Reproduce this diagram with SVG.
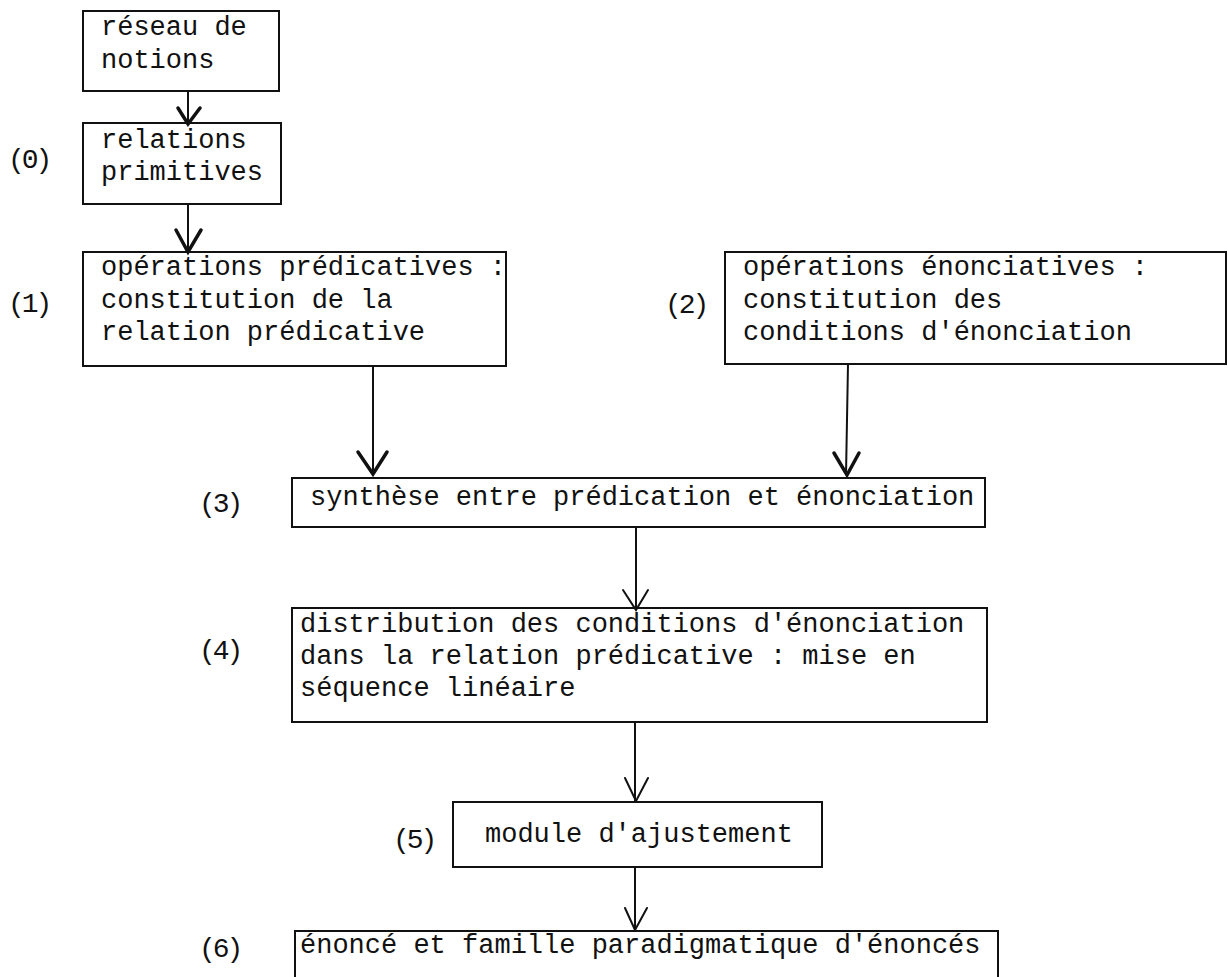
<svg xmlns="http://www.w3.org/2000/svg" width="1228" height="977" viewBox="0 0 1228 977">
<style>
.box{fill:none;stroke:#111;stroke-width:2}
.t{font-family:"Liberation Mono","DejaVu Sans Mono",monospace;font-size:27px;fill:#111}
.lbl{font-family:"Liberation Mono","DejaVu Sans Mono",monospace;font-size:28px;letter-spacing:-3px;fill:#111}
.shaft{stroke:#111;stroke-width:2;fill:none}
.head{stroke:#111;stroke-width:3.5;fill:none;stroke-linejoin:miter;stroke-linecap:round}
.headThin{stroke:#111;stroke-width:2;fill:none;stroke-linecap:round}
</style>
<rect width="1228" height="977" fill="#fff"/>
<g id="connectors">
<line class="shaft" x1="188" y1="91" x2="188" y2="123"/>
<polyline class="head" points="178,108 188,124 200,108"/>
<line class="shaft" x1="188" y1="204" x2="188" y2="252"/>
<polyline class="head" points="176,230 188,252 201,230"/>
<line class="shaft" x1="373" y1="366" x2="373" y2="475"/>
<polyline class="head" points="358,452 373,474 387,452"/>
<line class="shaft" x1="848" y1="364" x2="846" y2="475"/>
<polyline class="head" points="834,453 847,475 859,453"/>
<line class="shaft" x1="636" y1="527" x2="636" y2="608"/>
<polyline class="headThin" points="623,590 636,610 648,590"/>
<line class="shaft" x1="635" y1="722" x2="635" y2="802"/>
<polyline class="headThin" points="625,778 636,801 648,778"/>
<line class="shaft" x1="635" y1="867" x2="635" y2="931"/>
<polyline class="headThin" points="625,908 635,930 647,908"/>
</g>
<g id="node-reseau">
<rect class="box" x="83" y="11" width="196" height="80"/>
<text class="t" x="101" y="35">réseau de</text>
<text class="t" x="101" y="68">notions</text>
</g>
<g id="node-0">
<text class="lbl" x="8" y="168">(0)</text>
<rect class="box" x="83" y="123" width="198" height="81"/>
<text class="t" x="101" y="148">relations</text>
<text class="t" x="101" y="180">primitives</text>
</g>
<g id="node-1">
<text class="lbl" x="8" y="312">(1)</text>
<rect class="box" x="83" y="252" width="423" height="114"/>
<text class="t" x="101" y="275">opérations prédicatives :</text>
<text class="t" x="101" y="308">constitution de la</text>
<text class="t" x="101" y="340">relation prédicative</text>
</g>
<g id="node-2">
<text class="lbl" x="665" y="313">(2)</text>
<rect class="box" x="725" y="252" width="501" height="112"/>
<text class="t" x="743" y="275">opérations énonciatives :</text>
<text class="t" x="743" y="308">constitution des</text>
<text class="t" x="743" y="340">conditions d'énonciation</text>
</g>
<g id="node-3">
<text class="lbl" x="199" y="512">(3)</text>
<rect class="box" x="292" y="478" width="693" height="49"/>
<text class="t" x="310" y="505">synthèse entre prédication et énonciation</text>
</g>
<g id="node-4">
<text class="lbl" x="199" y="659">(4)</text>
<rect class="box" x="292" y="608" width="695" height="114"/>
<text class="t" x="300" y="632">distribution des conditions d'énonciation</text>
<text class="t" x="300" y="664">dans la relation prédicative : mise en</text>
<text class="t" x="300" y="696">séquence linéaire</text>
</g>
<g id="node-5">
<text class="lbl" x="393" y="848">(5)</text>
<rect class="box" x="453" y="802" width="369" height="65"/>
<text class="t" x="485" y="842">module d'ajustement</text>
</g>
<g id="node-6">
<text class="lbl" x="199" y="957">(6)</text>
<path class="box" d="M295,977 V931 H998 V977"/>
<text class="t" x="300" y="953">énoncé et famille paradigmatique d'énoncés</text>
</g>
</svg>
